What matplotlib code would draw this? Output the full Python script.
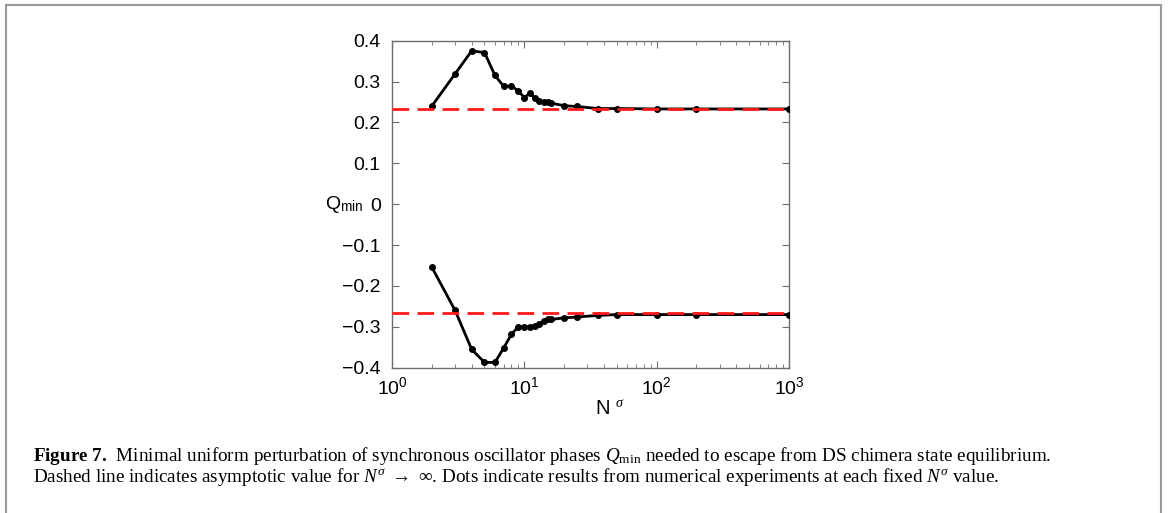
import matplotlib
matplotlib.use('Agg')
import matplotlib.pyplot as plt
from matplotlib.lines import Line2D
from matplotlib.ticker import LogLocator, NullFormatter

plt.rcParams['font.family'] = ['Liberation Sans', 'DejaVu Sans']
plt.rcParams['mathtext.fontset'] = 'custom'
plt.rcParams['mathtext.rm'] = 'Liberation Serif'
plt.rcParams['mathtext.it'] = 'Liberation Serif:italic'
plt.rcParams['mathtext.bf'] = 'Liberation Serif:bold'
plt.rcParams['mathtext.sf'] = 'Liberation Sans'

# data
n_sigma = [2, 3, 4, 5, 6, 7, 8, 9, 10, 11, 12, 13, 14, 15, 16, 20, 25, 36, 50, 100, 200, 1000]
q_upper = [0.240, 0.319, 0.375, 0.371, 0.315, 0.288, 0.289, 0.277, 0.261, 0.271, 0.260,
           0.253, 0.250, 0.249, 0.247, 0.241, 0.239, 0.234, 0.234, 0.233, 0.233, 0.233]
q_lower = [-0.154, -0.260, -0.355, -0.387, -0.387, -0.351, -0.318, -0.300, -0.300, -0.300, -0.297,
           -0.292, -0.286, -0.282, -0.282, -0.278, -0.276, -0.272, -0.270, -0.270, -0.270, -0.270]
asym_upper = 0.234
asym_lower = -0.267
y_ticks = [-0.4, -0.3, -0.2, -0.1, 0, 0.1, 0.2, 0.3, 0.4]
y_ticklabels = ['\u22120.4', '\u22120.3', '\u22120.2', '\u22120.1', '0', '0.1', '0.2', '0.3', '0.4']

fig = plt.figure(figsize=(11.68, 5.13), dpi=100)
ax = fig.add_axes([0.3356, 0.2832, 0.3399, 0.6375])

ax.plot(n_sigma, q_upper, '-o', color='black', lw=2, ms=4, zorder=3)
ax.plot(n_sigma, q_lower, '-o', color='black', lw=2, ms=4, zorder=3)
ax.axhline(asym_upper, color='#ff1a1a', lw=2, ls=(0, (6, 3)), zorder=4)
ax.axhline(asym_lower, color='#ff1a1a', lw=2, ls=(0, (6, 3)), zorder=4)

ax.set_xscale('log')
ax.set_xlim(1, 1000)
ax.set_ylim(-0.4, 0.4)
ax.xaxis.set_major_locator(LogLocator(base=10, numticks=10))
ax.xaxis.set_minor_locator(LogLocator(base=10, subs=range(2, 10), numticks=10))
ax.xaxis.set_minor_formatter(NullFormatter())
ax.set_yticks(y_ticks)
ax.set_yticklabels(y_ticklabels)

for s in ax.spines.values():
    s.set_color('#6e6e6e')
    s.set_linewidth(1)
ax.tick_params(which='both', direction='in', top=True, right=True, color='#6e6e6e',
               labelsize=14, labelcolor='black')
ax.tick_params(which='major', length=5)
ax.tick_params(which='minor', length=3)
ax.tick_params(axis='x', pad=6)
ax.tick_params(axis='y', pad=8)

ax.set_ylabel(r'Q$_{\mathsf{min}}$', fontsize=14, rotation=0, ha='right', va='center')
ax.yaxis.set_label_coords(-0.073, 0.5)
ax.set_xlabel(r'N $^{\sigma}$', fontsize=14.5, va='center')
ax.xaxis.set_label_coords(0.55, -0.125)

# page frame
frame = dict(color='#9a9a9a', lw=1.5, transform=fig.transFigure)
fig.add_artist(Line2D([6 / 1168, 1161 / 1168], [1 - 5 / 513, 1 - 5 / 513], **frame))
fig.add_artist(Line2D([6 / 1168, 6 / 1168], [0, 1 - 5 / 513], **frame))
fig.add_artist(Line2D([1161 / 1168, 1161 / 1168], [0, 1 - 5 / 513], **frame))

cap1 = (r'$\mathbf{Figure\ 7.}\,$ Minimal uniform perturbation of synchronous oscillator phases '
        r'$Q_{\rm min}$ needed to escape from DS chimera state equilibrium.')
cap2 = (r'Dashed line indicates asymptotic value for $N^{\sigma}\ \rightarrow\ \infty$. '
        r'Dots indicate results from numerical experiments at each fixed $N^{\sigma}$ value.')
fig.text(33 / 1168, 1 - 461 / 513, cap1, family='Liberation Serif', fontsize=13.8, va='baseline')
fig.text(33 / 1168, 1 - 482 / 513, cap2, family='Liberation Serif', fontsize=13.8, va='baseline')

fig.savefig('out.png', dpi=100)
